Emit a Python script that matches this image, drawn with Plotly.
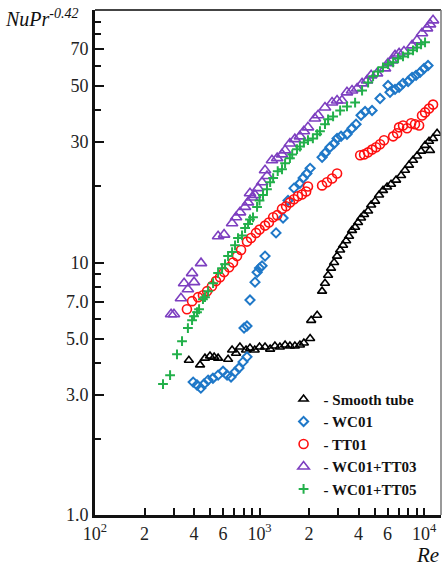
import plotly.graph_objects as go

# ---------------- data ----------------
re_smooth = [372, 435, 466, 500, 530, 560, 644, 681, 720, 760, 828, 875, 935, 1000, 1080, 1160, 1240, 1330, 1430, 1530,
             1640, 1760, 1860, 2030, 2060, 2240, 2400, 2500, 2610, 2720, 2840, 2960, 3090, 3220, 3360, 3500, 3650, 3810,
             3970, 4140, 4320, 4570, 4770, 5040, 5330, 5630, 5960, 6300, 6760, 7250, 7660, 8100, 8570, 9060, 9590,
             10140, 10720, 11340, 12000, 10870]
nu_smooth = [4.10, 3.93, 4.18, 4.26, 4.22, 4.18, 4.14, 4.50, 4.37, 4.63, 4.50, 4.58, 4.50, 4.63, 4.63, 4.54, 4.67, 4.63,
             4.71, 4.67, 4.67, 4.71, 4.80, 5.0, 5.9, 6.18, 7.7, 8.28, 8.9, 9.5, 10.0, 10.6, 11.2, 11.7, 12.2, 12.7, 13.4,
             13.8, 14.4, 15.0, 15.5, 16.0, 16.9, 17.5, 18.5, 19.3, 19.9, 20.4, 21.2, 22.1, 23.2, 24.3, 25.4, 26.4, 27.6,
             29.1, 30.2, 31.0, 32.5, 27.8]

re_wc01 = [395, 417, 440, 460, 487, 521, 560, 600, 635, 671, 710, 750, 794, 839, 805, 839, 875, 939, 967, 1000, 1036,
           1080, 1260, 1390, 1490, 1620, 1760, 1840, 1940, 2030, 2400, 2500, 2680, 2840, 2960, 3130, 3400, 3650, 3860,
           4140, 4380, 4830, 5400, 6040, 6210, 6660, 7050, 7450, 8000, 8460, 8940, 9460, 10000, 10570]
nu_wc01 = [3.36, 3.27, 3.18, 3.30, 3.42, 3.48, 3.58, 3.71, 3.58, 3.52, 3.68, 3.82, 4.04, 4.23, 5.50, 5.60, 7.10, 8.36,
           9.15, 9.5, 9.7, 10.6, 13.1, 15.0, 17.6, 19.7, 20.6, 21.6, 22.5, 23.6, 26.1, 27.1, 28.6, 29.6, 31.0, 31.6,
           32.2, 34.0, 35.3, 38.3, 39.6, 40.0, 44.6, 50.2, 47.2, 48.5, 49.4, 51.2, 52.1, 54.1, 55.1, 56.6, 58.7, 60.3]

re_tt01 = [362, 389, 423, 453, 480, 514, 544, 575, 609, 653, 690, 730, 772, 839, 888, 952, 1000, 1080, 1140, 1210,
           1280, 1370, 1450, 1530, 1620, 1710, 1810, 1920, 1970, 2400, 2570, 2760, 2960, 4090, 4320, 4570, 4830, 5110,
           5400, 5710, 6490, 6860, 7050, 7450, 7880, 8340, 8810, 9330, 9720, 10140, 10720, 11340]
nu_tt01 = [6.53, 7.03, 7.29, 7.42, 7.70, 8.06, 8.44, 8.75, 9.16, 9.58, 10.0, 10.6, 11.2, 12.1, 12.5, 13.1, 13.5, 14.0,
           14.4, 15.1, 15.4, 16.3, 16.7, 17.3, 17.8, 18.3, 18.6, 19.1, 20.0, 20.2, 20.8, 21.5, 22.5, 26.6, 26.8, 27.3,
           28.0, 28.6, 29.4, 30.5, 31.6, 32.5, 34.3, 34.9, 34.0, 35.6, 35.3, 34.9, 38.2, 39.3, 40.7, 42.2]

re_tt03 = [290, 302, 333, 348, 367, 389, 400, 441, 560, 609, 681, 720, 761, 816, 851, 900, 939, 875, 980, 1036, 1080,
           1110, 1190, 1280, 1370, 1430, 1530, 1640, 1760, 1860, 1970, 2170, 2270, 2500, 2760, 2960, 3170, 3400, 3650,
           3920, 4200, 4500, 4770, 5180, 5790, 6040, 6390, 6660, 7050, 7550, 8460, 9060, 9720, 10420, 10870, 11340]
nu_tt03 = [6.24, 6.24, 7.22, 8.28, 7.84, 9.08, 8.36, 9.94, 12.7, 12.9, 14.3, 15.1, 15.8, 16.6, 17.3, 18.1, 18.5, 18.8,
           19.7, 20.8, 23.2, 22.0, 25.4, 25.9, 26.8, 27.8, 29.6, 30.8, 31.6, 33.1, 34.3, 37.2, 38.3, 41.1, 43.0, 43.8,
           43.8, 47.2, 48.0, 48.9, 51.2, 52.6, 55.1, 56.1, 58.7, 61.5, 63.1, 66.1, 67.3, 68.5, 72.4, 75.8, 80.9, 84.6,
           87.7, 91.0]

re_tt05 = [259, 286, 315, 338, 367, 389, 400, 417, 429, 453, 466, 487, 522, 560, 592, 617, 644, 681, 710, 740, 783,
           817, 852, 875, 913, 966, 1000, 1050, 1110, 1160, 1210, 1290, 1370, 1430, 1530, 1580, 1690, 1760, 1860, 1970,
           2110, 2240, 2330, 2500, 2610, 2800, 3090, 3400, 3810, 4200, 4570, 4900, 5250, 5630, 6040, 6490, 6950, 7450,
           8000, 8570, 9060, 9590, 10140]
nu_tt05 = [3.30, 3.58, 4.33, 4.88, 5.50, 5.91, 6.13, 6.36, 6.53, 7.16, 7.29, 7.70, 8.28, 9.08, 9.49, 9.84, 10.6, 11.0,
           11.7, 12.5, 12.8, 13.7, 14.2, 14.8, 15.1, 16.6, 17.6, 18.5, 19.5, 20.8, 21.6, 23.0, 23.4, 24.7, 25.9, 26.8,
           28.1, 28.8, 29.9, 30.5, 31.0, 32.2, 33.1, 35.3, 36.9, 37.9, 40.0, 41.5, 43.0, 48.0, 51.6, 54.6, 57.1, 59.3,
           61.0, 62.1, 64.3, 65.5, 67.3, 69.2, 71.1, 73.1, 74.5]

series_names = ["- Smooth tube", "- WC01", "- TT01", "- WC01+TT03", "- WC01+TT05"]

x_tickvals = [100, 200, 400, 600, 1000, 2000, 4000, 6000, 10000]
x_ticktext = ["10<sup>2</sup>", "2", "4", "6", "10<sup>3</sup>", "2", "4", "6", "10<sup>4</sup>"]
x_minor = [300, 500, 700, 800, 900, 3000, 5000, 7000, 8000, 9000]
y_tickvals = [1, 3, 5, 7, 10, 30, 50, 70]
y_ticktext = ["1.0", "3.0", "5.0", "7.0", "10", "30", "50", "70"]
y_minor = [2, 4, 6, 8, 9, 20, 40, 60, 80, 90]

# ---------------- figure ----------------
SERIF = "Liberation Serif, Times New Roman, serif"
styles = [
    dict(symbol="triangle-up-open", size=8, color="#000000", lw=1.6),
    dict(symbol="diamond-open", size=7, color="#1f78c8", lw=2),
    dict(symbol="circle-open", size=9, color="#ff1010", lw=1.6),
    dict(symbol="triangle-up-open", size=10, color="#7d3fc0", lw=1.6),
    dict(symbol="cross-thin-open", size=7, color="#22b04a", lw=2),
]
data = [(re_smooth, nu_smooth), (re_wc01, nu_wc01), (re_tt01, nu_tt01), (re_tt03, nu_tt03), (re_tt05, nu_tt05)]

fig = go.Figure()
for (xs, ys), name, st in zip(data, series_names, styles):
    fig.add_trace(go.Scatter(
        x=xs, y=ys, mode="markers", name=name,
        marker=dict(symbol=st["symbol"], size=st["size"], color=st["color"],
                    line=dict(color=st["color"], width=st["lw"])),
    ))

axis_common = dict(
    showgrid=False, zeroline=False, showline=True, linecolor="#111", linewidth=3,
    ticks="inside", tickcolor="#111", tickwidth=1.5,
    tickfont=dict(family=SERIF, size=18, color="#222"),
)
fig.update_xaxes(type="log", range=[2, 4.103], tickmode="array", tickvals=x_tickvals, ticktext=x_ticktext,
                 ticklen=7, minor=dict(tickmode="array", tickvals=x_minor, ticks="inside", ticklen=7,
                                       tickcolor="#111", tickwidth=1.5), **axis_common)
fig.update_yaxes(type="log", range=[0, 2], tickmode="array", tickvals=y_tickvals, ticktext=y_ticktext,
                 ticklen=9, minor=dict(tickmode="array", tickvals=y_minor, ticks="inside", ticklen=6,
                                       tickcolor="#111", tickwidth=1.5), **axis_common)

fig.add_shape(type="line", xref="paper", yref="paper", x0=0, x1=1, y0=1, y1=1, line=dict(color="#444", width=2))
fig.add_shape(type="line", xref="paper", yref="paper", x0=1, x1=1, y0=0, y1=1, line=dict(color="#777", width=1.5))

fig.add_annotation(text="<i>NuPr<sup>-0.42</sup></i>", xref="paper", yref="paper", x=-0.265, y=1.012,
                   xanchor="left", yanchor="top", showarrow=False,
                   font=dict(family=SERIF, size=20, color="#111"))
fig.add_annotation(text="<i>Re</i>", xref="paper", yref="paper", x=1.0, y=-0.079,
                   xanchor="right", yanchor="middle", showarrow=False,
                   font=dict(family=SERIF, size=21, color="#111"))

fig.update_layout(
    width=443, height=570,
    margin=dict(l=95, r=2, t=10, b=55),
    paper_bgcolor="white", plot_bgcolor="white",
    legend=dict(x=0.545, y=0.262, xanchor="left", yanchor="top", bgcolor="rgba(255,255,255,0)",
                font=dict(family=SERIF, size=15, color="#111", weight="bold"), itemwidth=30,
                tracegroupgap=0),
    showlegend=True,
)
fig.write_html("out.html")
